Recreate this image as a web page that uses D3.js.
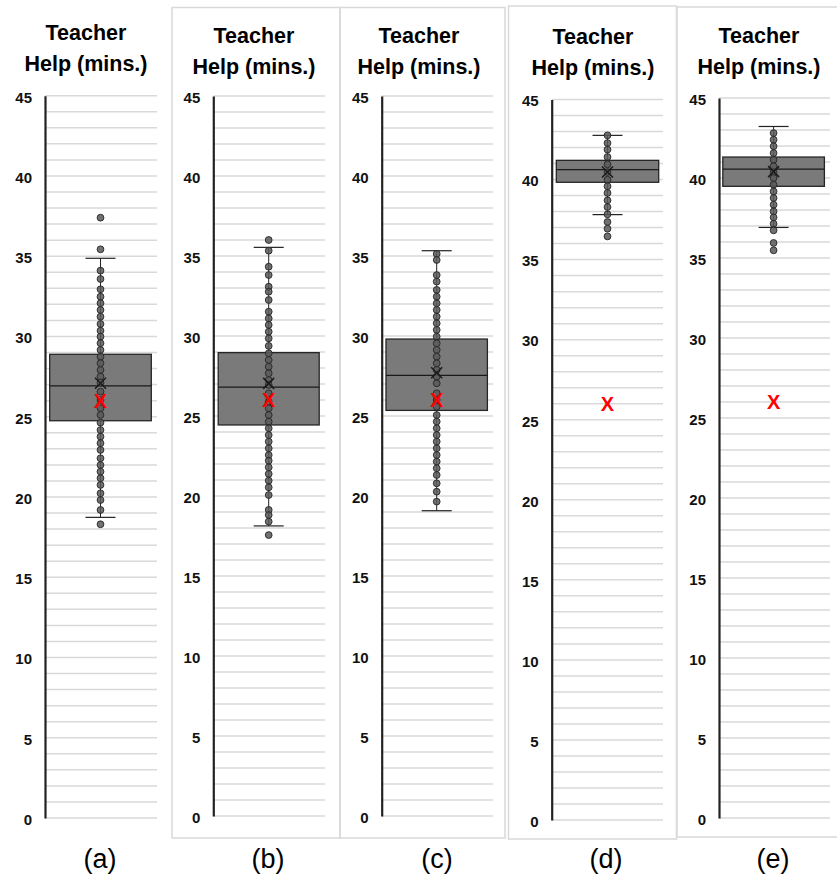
<!DOCTYPE html>
<html><head><meta charset="utf-8">
<script src="https://cdn.jsdelivr.net/npm/d3@7"></script>
<style>body{margin:0;background:#fff;} svg{display:block;}</style>
</head><body>
<svg id="chart" width="837" height="877"></svg>
<script>
// ---- data ----
const panelLabels = ["(a)", "(b)", "(c)", "(d)", "(e)"];
const titleLines = ["Teacher", "Help (mins.)"];
const yTicks = [0, 5, 10, 15, 20, 25, 30, 35, 40, 45];
const q1 = [24.75, 24.44, 25.35, 39.83, 39.48];
const median = [26.92, 26.81, 27.54, 40.62, 40.56];
const q3 = [28.89, 28.96, 29.81, 41.2, 41.31];
const whiskerLow = [18.73, 18.13, 19.08, 37.81, 36.91];
const whiskerHigh = [34.87, 35.54, 35.33, 42.76, 43.22];
const means = [27.08, 27.04, 27.7, 40.47, 40.4];
const referenceMark = [26, 26, 26, 26, 26];
const pointsA = [37.4, 35.43, 34.1, 33.58, 32.94, 32.48, 32.07, 31.65, 31.23, 30.78, 30.36, 29.99, 29.58, 29.16, 28.74, 28.33, 27.91, 27.5, 27.12, 26.56, 26.04, 25.53, 25.11, 24.63, 24.17, 23.76, 23.35, 22.93, 22.41, 21.99, 21.58, 21.17, 20.75, 20.23, 19.81, 19.19, 18.3];
const pointsB = [36.0, 35.33, 34.33, 33.81, 33.08, 32.77, 32.25, 31.52, 31.1, 30.69, 30.27, 29.85, 29.38, 28.92, 28.5, 28.08, 27.67, 27.25, 26.94, 26.42, 25.9, 25.48, 25.06, 24.65, 24.23, 23.81, 23.4, 22.98, 22.56, 22.21, 21.79, 21.38, 20.96, 20.54, 20.06, 19.13, 18.81, 18.4, 17.56];
const pointsC = [35.13, 34.75, 33.81, 33.4, 32.88, 32.46, 32.04, 31.63, 31.21, 30.79, 30.38, 29.96, 29.54, 29.13, 28.71, 28.29, 27.88, 27.46, 27.04, 26.42, 26.0, 25.58, 25.06, 24.65, 24.23, 23.81, 23.4, 22.98, 22.56, 22.15, 21.73, 21.31, 20.79, 20.27, 19.65];
const pointsD = [42.76, 42.28, 41.87, 41.41, 40.95, 40.47, 39.99, 39.58, 39.16, 38.7, 38.28, 37.83, 37.35, 36.93, 36.45];
const pointsE = [42.81, 42.39, 41.98, 41.56, 41.14, 40.73, 40.35, 40.0, 39.58, 39.16, 38.75, 38.33, 37.91, 37.54, 37.14, 36.73, 35.94, 35.48];
const points = [pointsA, pointsB, pointsC, pointsD, pointsE];

// ---- layout (pixels) ----
const layout = [
  {axisX: 45,    y45: 95.7, y0: 818, gridR: 157, cx: 100.5, half: 50.8, tx: 86,  ty: 40, border: null},
  {axisX: 213.3, y45: 96,   y0: 816, gridR: 325, cx: 268.7, half: 50.5, tx: 254, ty: 43, border: [172, 7.5, 340, 838]},
  {axisX: 381.7, y45: 96,   y0: 816, gridR: 493, cx: 436.7, half: 50.7, tx: 419, ty: 43, border: [340, 7.5, 505, 838]},
  {axisX: 551.7, y45: 99.5, y0: 820, gridR: 663, cx: 607.5, half: 51.2, tx: 593, ty: 44, border: [508.5, 6, 676.5, 839]},
  {axisX: 719,   y45: 98,   y0: 818, gridR: 830, cx: 773.6, half: 50.8, tx: 759, ty: 43, border: [677, 7, 840, 837]}
];
const labelX = [100, 268, 437, 606, 773];

const svg = d3.select("#chart");
svg.append("rect").attr("width", 837).attr("height", 877).attr("fill", "#fff");

const gridVals = d3.range(0, 46, 1);

layout.forEach((L, i) => {
  const g = svg.append("g");
  if (L.border) {
    const [x1, y1, x2, y2] = L.border;
    g.append("rect").attr("x", x1).attr("y", y1).attr("width", x2 - x1).attr("height", y2 - y1)
      .attr("fill", "none").attr("stroke", "#d9d9d9").attr("stroke-width", 1.5);
  }
  const y = d3.scaleLinear().domain([0, 45]).range([L.y0, L.y45]);

  // gridlines
  g.selectAll(".grid").data(gridVals).join("line")
    .attr("x1", L.axisX).attr("x2", L.gridR)
    .attr("y1", d => y(d)).attr("y2", d => y(d))
    .attr("stroke", "#d9d9d9").attr("stroke-width", 1.5);

  // axis
  const axis = d3.axisLeft(y).tickValues(yTicks).tickSize(0).tickPadding(13).tickFormat(d3.format("d"));
  const ag = g.append("g").attr("transform", `translate(${L.axisX},0)`).call(axis);
  ag.select(".domain").attr("stroke", "#222").attr("stroke-width", 2.2);
  ag.selectAll("text").attr("font-family", "'Liberation Sans', Arial, sans-serif")
    .attr("font-weight", "bold").attr("font-size", 15).attr("fill", "#111").attr("dy", "0.42em");

  // title
  const t = g.append("text").attr("text-anchor", "middle")
    .attr("font-family", "'Liberation Sans', Arial, sans-serif").attr("font-weight", "bold")
    .attr("font-size", 21.5).attr("fill", "#000");
  titleLines.forEach((line, k) => {
    t.append("tspan").attr("x", L.tx).attr("y", L.ty + k * 31).text(line);
  });

  // box
  const cx = L.cx;
  g.append("line").attr("x1", cx).attr("x2", cx)
    .attr("y1", y(whiskerLow[i])).attr("y2", y(whiskerHigh[i]))
    .attr("stroke", "#222").attr("stroke-width", 1);
  [whiskerLow[i], whiskerHigh[i]].forEach(v => {
    g.append("line").attr("x1", cx - 15).attr("x2", cx + 15)
      .attr("y1", y(v)).attr("y2", y(v)).attr("stroke", "#222").attr("stroke-width", 1.2);
  });
  g.append("rect").attr("x", cx - L.half).attr("width", 2 * L.half)
    .attr("y", y(q3[i])).attr("height", y(q1[i]) - y(q3[i]))
    .attr("fill", "#7a7a7a").attr("stroke", "#262626").attr("stroke-width", 1.3);
  g.append("line").attr("x1", cx - L.half).attr("x2", cx + L.half)
    .attr("y1", y(median[i])).attr("y2", y(median[i]))
    .attr("stroke", "#1a1a1a").attr("stroke-width", 1.3);

  // points
  g.selectAll(".pt").data(points[i]).join("circle")
    .attr("cx", cx).attr("cy", d => y(d)).attr("r", 3.4)
    .attr("fill", "#585858").attr("fill-opacity", 0.85)
    .attr("stroke", "#262626").attr("stroke-width", 0.9);

  // mean marker
  const my = y(means[i]);
  g.append("path").attr("d", `M${cx - 5.5},${my - 5.5}L${cx + 5.5},${my + 5.5}M${cx - 5.5},${my + 5.5}L${cx + 5.5},${my - 5.5}`)
    .attr("stroke", "#1a1a1a").attr("stroke-width", 1.5).attr("fill", "none");

  // red reference mark
  g.append("text").attr("x", cx).attr("y", y(referenceMark[i])).attr("dy", "0.36em")
    .attr("text-anchor", "middle").attr("font-family", "'Liberation Sans', Arial, sans-serif")
    .attr("font-weight", "bold").attr("font-size", 20).attr("fill", "#ff0000").text("X");

  // subplot label
  svg.append("text").attr("x", labelX[i]).attr("y", 868).attr("text-anchor", "middle")
    .attr("font-family", "'Liberation Sans', Arial, sans-serif").attr("font-size", 27)
    .attr("fill", "#000").text(panelLabels[i]);
});
</script>
</body></html>
